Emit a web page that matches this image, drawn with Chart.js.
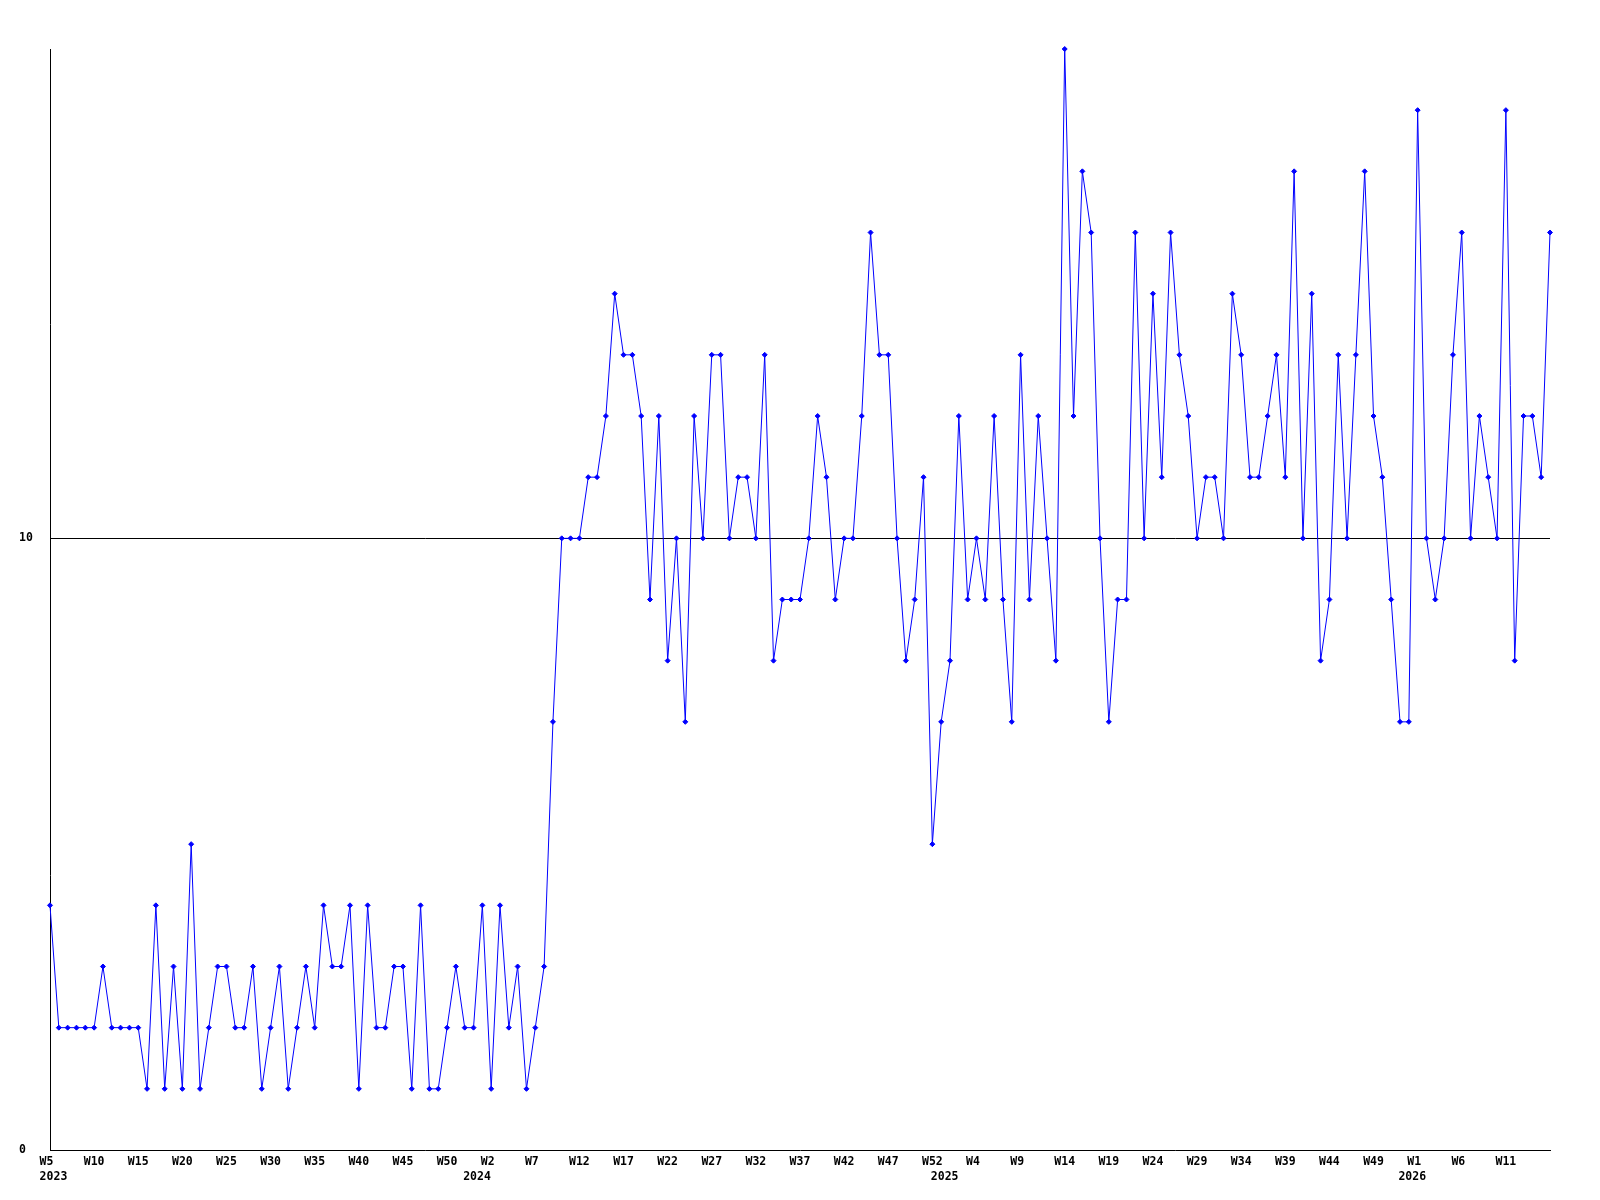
<!DOCTYPE html>
<html>
<head>
<meta charset="utf-8">
<script src="https://cdn.jsdelivr.net/npm/chart.js@4"></script>
<style>
    html, body { margin: 0; padding: 0; background: #fff; }
    #grafica { display: block; }
</style>
</head>
<body>
<canvas id="grafica" width="1600" height="1200"></canvas>
<script>
// Week labels shown on the x axis, one every 5 points
const semanas = [
    'W5', 'W10', 'W15', 'W20', 'W25', 'W30', 'W35', 'W40', 'W45', 'W50',
    'W2', 'W7', 'W12', 'W17', 'W22', 'W27', 'W32', 'W37', 'W42', 'W47', 'W52',
    'W4', 'W9', 'W14', 'W19', 'W24', 'W29', 'W34', 'W39', 'W44', 'W49',
    'W1', 'W6', 'W11'
];
// Year labels and the point where each year starts
const anios = ['2023', '2024', '2025', '2026'];
const inicio_anio = [0, 48, 101, 154];

// Weekly values
const valores = [
    4, 2, 2, 2, 2, 2, 3, 2, 2, 2,
    2, 1, 4, 1, 3, 1, 5, 1, 2, 3,
    3, 2, 2, 3, 1, 2, 3, 1, 2, 3,
    2, 4, 3, 3, 4, 1, 4, 2, 2, 3,
    3, 1, 4, 1, 1, 2, 3, 2, 2, 4,
    1, 4, 2, 3, 1, 2, 3, 7, 10, 10,
    10, 11, 11, 12, 14, 13, 13, 12, 9, 12,
    8, 10, 7, 12, 10, 13, 13, 10, 11, 11,
    10, 13, 8, 9, 9, 9, 10, 12, 11, 9,
    10, 10, 12, 15, 13, 13, 10, 8, 9, 11,
    5, 7, 8, 12, 9, 10, 9, 12, 9, 7,
    13, 9, 12, 10, 8, 18, 12, 16, 15, 10,
    7, 9, 9, 15, 10, 14, 11, 15, 13, 12,
    10, 11, 11, 10, 14, 13, 11, 11, 12, 13,
    11, 16, 10, 14, 8, 9, 13, 10, 13, 16,
    12, 11, 9, 7, 7, 17, 10, 9, 10, 13,
    15, 10, 12, 11, 10, 17, 8, 12, 12, 11,
    15
];

// Y axis ticks
const ticks_y = [0, 10];

const fuente = { family: "'DejaVu Sans Mono', monospace", size: 11.5, weight: 'bold', lineHeight: 1.3 };

// Builds the tick text for point i: week on the first line, year on the second
function etiquetaX(i) {
    let semana = '';
    if (i % 5 === 0 && semanas[i / 5]) {
        semana = semanas[i / 5];
        if (semana.length < 3) semana += ' ';
    }
    const k = inicio_anio.indexOf(i);
    if (k >= 0) return [semana, ' ' + anios[k]];
    return semana;
}

const ctx = document.getElementById('grafica').getContext('2d');
new Chart(ctx, {
    type: 'line',
    data: {
        labels: valores.map((v, i) => i),
        datasets: [{
            data: valores,
            borderColor: '#0000ff',
            backgroundColor: '#0000ff',
            borderWidth: 1,
            tension: 0,
            pointStyle: 'rectRot',
            pointRadius: 2.5,
            pointBorderWidth: 1,
            clip: false
        }]
    },
    options: {
        responsive: false,
        animation: false,
        layout: { padding: { left: 19, right: 50, top: 49, bottom: 0 } },
        plugins: {
            legend: { display: false },
            tooltip: { enabled: false }
        },
        scales: {
            x: {
                type: 'category',
                offset: false,
                grid: { display: false, drawTicks: false },
                border: { display: true, color: '#000', width: 1 },
                afterFit: scale => { scale.height = 50; },
                ticks: {
                    autoSkip: false,
                    maxRotation: 0,
                    minRotation: 0,
                    padding: 5,
                    color: '#000',
                    font: fuente,
                    callback: (value, index) => etiquetaX(index)
                }
            },
            y: {
                min: 0,
                max: 18,
                afterBuildTicks: scale => { scale.ticks = ticks_y.map(v => ({ value: v })); },
                afterFit: scale => { scale.width = 31; },
                grid: {
                    drawTicks: false,
                    color: c => (c.tick && c.tick.value === 10) ? '#000' : 'rgba(0,0,0,0)',
                    lineWidth: 1
                },
                border: { display: true, color: '#000', width: 1 },
                ticks: {
                    crossAlign: 'far',
                    padding: 0,
                    color: '#000',
                    font: fuente
                }
            }
        }
    }
});
</script>
</body>
</html>
